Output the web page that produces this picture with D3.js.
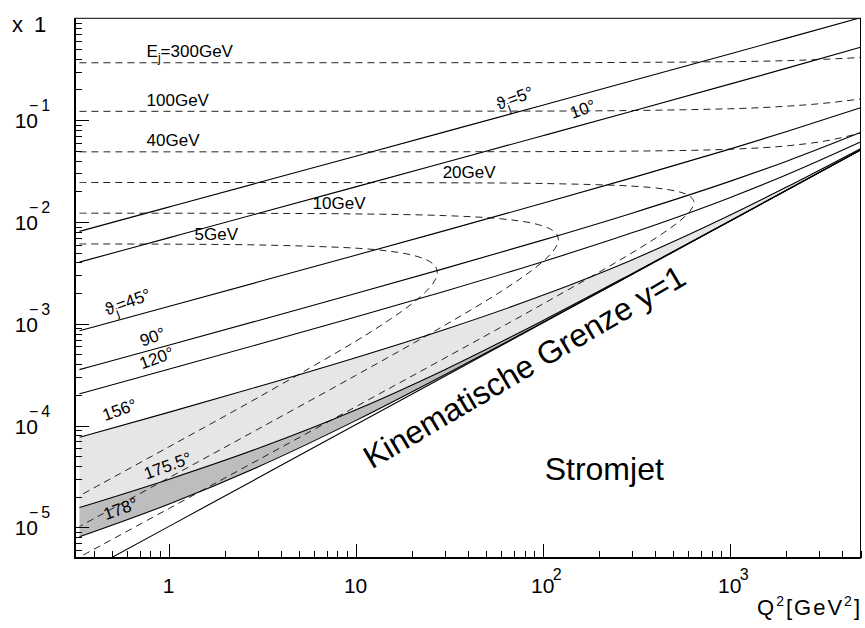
<!DOCTYPE html>
<html lang="de">
<head>
<meta charset="UTF-8">
<title>x-Q2 Ebene - Stromjet</title>
<script src="https://cdn.jsdelivr.net/npm/d3@7"></script>
<style>
  body { margin: 0; background: #fff; }
  svg { display: block; font-family: "Liberation Sans", Arial, "DejaVu Sans", sans-serif; }
</style>
</head>
<body>
<svg id="chart" width="865" height="628"></svg>
<script>
// Q^2 stuetzstellen fuer die linien konstanten jetwinkels
var q2Grid = [0.334, 1, 3, 10, 30, 100, 300, 1000, 2000, 5000];

// x-werte der winkel-linien (theta_j)
var theta5    = [0.008071, 0.013971, 0.024205, 0.044215, 0.07665, 0.14017, 0.24343, 0.44675, 0.63482, 1.013];
var theta10   = [0.004028, 0.0069746, 0.012087, 0.022091, 0.038326, 0.070205, 0.12225, 0.22554, 0.32201, 0.5189];
var theta45   = [0.0008525, 0.0014772, 0.002565, 0.0047063, 0.0082169, 0.015238, 0.027067, 0.05191, 0.076776, 0.13255];
var theta90   = [0.0003541, 0.0006148, 0.0010714, 0.0019797, 0.0034957, 0.0066268, 0.012194, 0.025022, 0.039263, 0.075449];
var theta120  = [0.00020515, 0.00035712, 0.000625, 0.0011652, 0.0020869, 0.004065, 0.0078094, 0.017318, 0.0289, 0.060973];
var theta156  = [0.0000766, 0.00013469, 0.00024025, 0.00046381, 0.00087851, 0.0019002, 0.0042378, 0.011609, 0.021861, 0.052412];
var theta1755 = [0.000015646, 0.000029571, 0.000059449, 0.00014203, 0.00035356, 0.0010699, 0.0031041, 0.010218, 0.02038, 0.050866];
var theta178  = [0.0000080779, 0.000016875, 0.000039164, 0.00011176, 0.00031563, 0.0010272, 0.0030597, 0.010173, 0.020335, 0.050821];
// kinematische grenze y=1
var limitX    = [0.000003394, 0.000010163, 0.000030488, 0.00010163, 0.00030488, 0.0010163, 0.0030488, 0.010163, 0.020325, 0.050813];

// linien konstanter jetenergie (Q^2, x) - bei E < E_e bogen zurueck
var e5Q2 = [0.334, 1, 3, 10, 15, 20, 24, 26, 27, 27.33, 27, 26, 24, 20, 15, 10, 3, 1, 0.334];
var e5X  = [0.0060805, 0.0060462, 0.0059403, 0.0055264, 0.0051716, 0.0047281, 0.0042339, 0.0038526, 0.0035203, 0.0031876,
            0.0028517, 0.0025092, 0.0021076, 0.0015728, 0.0010784, 0.00067276, 0.00018777, 0.00006149, 0.00002042];
var e10Q2 = [0.334, 1, 3, 10, 30, 60, 90, 110, 118, 120, 121.22, 120, 118, 110, 90, 60, 30, 10, 3, 1, 0.334];
var e10X  = [0.012188, 0.012175, 0.012134, 0.011987, 0.011533, 0.010725, 0.0096378, 0.0085033, 0.0076867, 0.0073171, 0.0067135,
             0.0060976, 0.0057076, 0.0048097, 0.003472, 0.00208, 0.00096716, 0.00031018, 0.00009193, 0.000030537, 0.00001019];
var e20Q2 = [0.334, 1, 3, 10, 30, 100, 300, 450, 550, 610, 640, 643.08, 640, 610, 550, 450, 300, 100, 30, 10, 3, 1, 0.334];
var e20X  = [0.024388, 0.024385, 0.024375, 0.024339, 0.024235, 0.023848, 0.022477, 0.020994, 0.019485, 0.017965, 0.01626, 0.015463,
             0.014634, 0.012625, 0.010495, 0.0079695, 0.0049626, 0.0015591, 0.00046025, 0.00015276, 0.000045762, 0.000015244, 0.000005098];
var e40Q2  = [0.334, 10, 100, 500, 1000, 2000, 3500, 5000];
var e40X   = [0.048781, 0.048806, 0.049039, 0.050155, 0.05176, 0.055773, 0.064024, 0.074711];
var e100Q2 = [0.334, 100, 1000, 2000, 3000, 5000];
var e100X  = [0.121953, 0.122664, 0.129237, 0.136842, 0.144732, 0.161234];
var e300Q2 = [0.334, 100, 1000, 3000, 5000];
var e300X  = [0.365857, 0.366769, 0.375025, 0.393507, 0.412156];

// achsen-beschriftung
var xMajor = [1, 10, 100, 1000];
var xMajorText = [["1"], ["10"], ["10", "2"], ["10", "3"]];
var yMajor = [1e-5, 1e-4, 1e-3, 1e-2, 1e-1];
var yMajorExp = ["\u22125", "\u22124", "\u22123", "\u22122", "\u22121"];

var svg = d3.select("#chart");
// nicht "top" nennen, das ist window.top
var pL = 75, pR = 860.5, pT = 18.3, pB = 558;

var x = d3.scaleLog().domain([Math.pow(10, -0.5), 5000]).range([pL, pR]);
var y = d3.scaleLog().domain([5e-6, 1]).range([pB, pT]);

svg.append("defs").append("clipPath").attr("id", "plotclip")
  .append("rect").attr("x", pL).attr("y", pT).attr("width", pR - pL).attr("height", pB - pT);

var plot = svg.append("g").attr("clip-path", "url(#plotclip)");

function pairs(qs, xs) { return qs.map(function(q, i) { return [q, xs[i]]; }); }

// graue baender 156-175.5 und 175.5-178 grad
var band = d3.area()
  .x(function(d) { return x(d.q); })
  .y0(function(d) { return y(d.lo); })
  .y1(function(d) { return y(d.hi); })
  .curve(d3.curveMonotoneX);

plot.append("path")
  .datum(q2Grid.map(function(q, i) { return {q: q, lo: theta1755[i], hi: theta156[i]}; }))
  .attr("d", band).attr("fill", "#e6e6e6");
plot.append("path")
  .datum(q2Grid.map(function(q, i) { return {q: q, lo: theta178[i], hi: theta1755[i]}; }))
  .attr("d", band).attr("fill", "#bdbdbd");

var straight = d3.line()
  .x(function(d) { return x(d[0]); })
  .y(function(d) { return y(d[1]); })
  .curve(d3.curveMonotoneX);
var bent = d3.line()
  .x(function(d) { return x(d[0]); })
  .y(function(d) { return y(d[1]); })
  .curve(d3.curveCatmullRom.alpha(0.5));

// energie-linien gestrichelt
[[e5Q2, e5X, bent], [e10Q2, e10X, bent], [e20Q2, e20X, bent],
 [e40Q2, e40X, straight], [e100Q2, e100X, straight], [e300Q2, e300X, straight]].forEach(function(c) {
  plot.append("path").datum(pairs(c[0], c[1])).attr("d", c[2])
    .attr("fill", "none").attr("stroke", "#222").attr("stroke-width", 1)
    .attr("stroke-dasharray", "7,5");
});

// winkel-linien durchgezogen
[theta5, theta10, theta45, theta90, theta120, theta156, theta1755, theta178, limitX].forEach(function(arr) {
  plot.append("path").datum(pairs(q2Grid, arr)).attr("d", straight)
    .attr("fill", "none").attr("stroke", "#000").attr("stroke-width", 1.1);
});

// ticks
function isPow10(v) { var l = Math.log10(v); return Math.abs(l - Math.round(l)) < 1e-9; }
var xMinor = x.ticks().filter(function(v) { return !isPow10(v); });
var yMinor = y.ticks().filter(function(v) { return !isPow10(v); });

function cleanAxis(g) {
  g.select(".domain").remove();
  g.selectAll(".tick line").attr("stroke", "#000").attr("shape-rendering", "crispEdges");
}

svg.append("g").attr("transform", "translate(0," + pB + ")")
  .call(d3.axisBottom(x).tickValues(xMinor).tickSize(-7).tickSizeOuter(0).tickFormat(""))
  .call(cleanAxis);
svg.append("g").attr("transform", "translate(0," + pB + ")")
  .call(d3.axisBottom(x).tickValues(xMajor).tickSize(-14).tickSizeOuter(0).tickFormat(""))
  .call(cleanAxis);
svg.append("g").attr("transform", "translate(" + pL + ",0)")
  .call(d3.axisLeft(y).tickValues(yMinor).tickSize(-7).tickSizeOuter(0).tickFormat(""))
  .call(cleanAxis);
svg.append("g").attr("transform", "translate(" + pL + ",0)")
  .call(d3.axisLeft(y).tickValues(yMajor).tickSize(-14).tickSizeOuter(0).tickFormat(""))
  .call(cleanAxis);

// rahmen
svg.append("rect").attr("x", pL).attr("y", pT).attr("width", pR - pL).attr("height", pB - pT)
  .attr("fill", "none").attr("stroke", "#000").attr("stroke-width", 1);
svg.append("path").attr("d", "M" + pL + "," + pT + "V" + pB + "H" + pR)
  .attr("fill", "none").attr("stroke", "#000").attr("stroke-width", 2);

// tick labels
xMajor.forEach(function(v, i) {
  var t = xMajorText[i];
  svg.append("text").attr("x", x(v)).attr("y", pB + 35).attr("text-anchor", "middle")
    .attr("font-size", 21).text(t[0]);
  if (t[1]) {
    svg.append("text").attr("x", x(v) + 10).attr("y", pB + 22)
      .attr("font-size", 16).text(t[1]);
  }
});
yMajor.forEach(function(v, i) {
  svg.append("text").attr("x", pL - 37).attr("y", y(v) + 8).attr("text-anchor", "end")
    .attr("font-size", 21).text("10");
  svg.append("text").attr("x", pL - 46).attr("y", y(v) - 9)
    .attr("font-size", 16).attr("letter-spacing", 3).text(yMajorExp[i]);
});
svg.append("text").attr("x", 34).attr("y", y(1) + 14).attr("font-size", 22).text("1");
svg.append("text").attr("x", 12).attr("y", y(1) + 14).attr("font-size", 22).text("x");

// achsentitel Q^2
var qt = svg.append("text").attr("x", 862).attr("y", 615).attr("text-anchor", "end")
  .attr("font-size", 22).attr("letter-spacing", 2);
qt.append("tspan").text("Q");
qt.append("tspan").attr("font-size", 14).attr("dy", -9).text("2");
qt.append("tspan").attr("dy", 9).text("[GeV");
qt.append("tspan").attr("font-size", 14).attr("dy", -9).text("2");
qt.append("tspan").attr("dy", 9).text("]");

// beschriftungen der kurven; "_" = index
function label(parts, q, xv, rot, anchor, size, middle) {
  var t = svg.append("text")
    .attr("transform", "translate(" + x(q) + "," + y(xv) + ") rotate(" + rot + ")")
    .attr("text-anchor", anchor).attr("font-size", size);
  var cur = 0;
  parts.forEach(function(p, i) {
    var sub = p.charAt(0) === "_";
    var target = sub ? size * 0.3 : 0;
    var s = t.append("tspan").text(sub ? p.slice(1) : p)
      .attr("dy", (i === 0 && middle ? size * 0.35 : 0) + target - cur);
    if (sub) s.attr("font-size", size * 0.72);
    cur = target;
  });
}

label(["E", "_j", "=300GeV"], 0.763, 0.417, 0, "start", 17, false);
label(["100GeV"], 0.763, 0.1377, 0, "start", 17, false);
label(["40GeV"], 0.763, 0.0558, 0, "start", 17, false);
label(["20GeV"], 29.2, 0.0271, 0, "start", 17, false);
label(["10GeV"], 5.89, 0.01346, 0, "start", 17, false);
label(["5GeV"], 1.377, 0.00667, 0, "start", 17, false);

label(["\u03d1", "_j", "=5\u00b0"], 70.8, 0.165, -20, "middle", 17, true);
label(["10\u00b0"], 163.6, 0.1288, -20, "middle", 17, true);
label(["\u03d1", "_j", "=45\u00b0"], 0.604, 0.001644, -20, "middle", 17, true);
label(["90\u00b0"], 0.821, 0.000745, -20, "middle", 17, true);
label(["120\u00b0"], 0.863, 0.000463, -20, "middle", 17, true);
label(["156\u00b0"], 0.547, 0.000143, -20, "middle", 17, true);
label(["175.5\u00b0"], 0.988, 0.0000404, -20, "middle", 17, true);
label(["178\u00b0"], 0.554, 0.0000153, -20, "middle", 17, true);

label(["Kinematische Grenze y=1"], 12.18, 0.0000369, -30.5, "start", 32, false);
label(["Stromjet"], 102.5, 0.0000294, 0, "start", 32, false);
</script>
</body>
</html>
